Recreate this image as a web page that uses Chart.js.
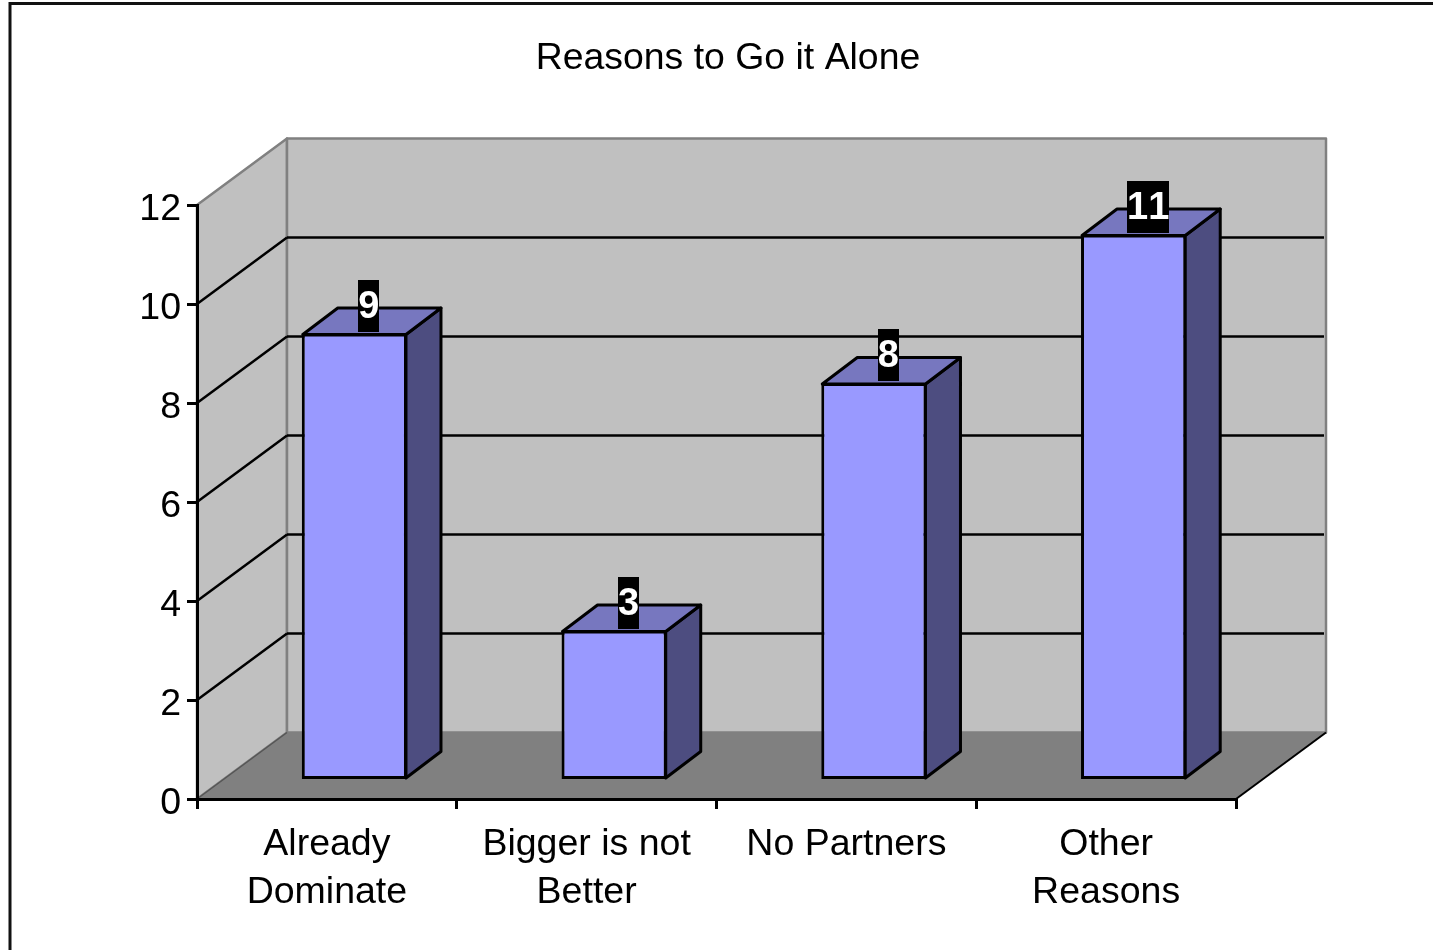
<!DOCTYPE html>
<html>
<head>
<meta charset="utf-8">
<title>Reasons to Go it Alone</title>
<script src="https://cdn.jsdelivr.net/npm/chart.js@4/dist/chart.umd.min.js"></script>
<style>
    html, body { margin: 0; padding: 0; background: #fff; overflow: hidden; }
    canvas { display: block; }
</style>
</head>
<body>
<canvas id="chart" width="1433" height="950"></canvas>
<script>
var titleText = 'Reasons to Go it Alone';
var categories = [['Already', 'Dominate'], ['Bigger is not', 'Better'], 'No Partners', ['Other', 'Reasons']];
var values = [9, 3, 8, 11];

var fontName = '"Liberation Sans", Arial, sans-serif';

// depth of the box behind the axes, and where the bars sit in it
var wallX = 90, wallY = -66.5;
var barX = 27.5, barY = -20;
var sideX = 35, sideY = -26.5;

function poly(ctx, pts, fill, stroke, width) {
    ctx.beginPath();
    ctx.moveTo(pts[0][0], pts[0][1]);
    for (var i = 1; i < pts.length; i++) {
        ctx.lineTo(pts[i][0], pts[i][1]);
    }
    ctx.closePath();
    if (fill) {
        ctx.fillStyle = fill;
        ctx.fill();
    }
    if (stroke) {
        ctx.strokeStyle = stroke;
        ctx.lineWidth = width;
        ctx.lineJoin = 'round';
        ctx.stroke();
    }
}

function line(ctx, x1, y1, x2, y2, color, width) {
    ctx.beginPath();
    ctx.moveTo(x1, y1);
    ctx.lineTo(x2, y2);
    ctx.strokeStyle = color;
    ctx.lineWidth = width;
    ctx.stroke();
}

var box3d = {
    id: 'box3d',
    afterLayout(chart) {
        // the title is centred on the whole frame, not on the plot
        chart.titleBlock.left = 23;
        chart.titleBlock.right = 1433;
    },
    afterUpdate(chart) {
        // y tick labels sit a little under their tick marks
        chart.scales.y.getLabelItems().forEach(function (item) {
            item.options.translation[1] += 5;
        });
        // chart.js lifts the base by half the grid line, put it back on zero
        let y0 = chart.scales.y.getPixelForValue(0);
        chart.getDatasetMeta(0).data.forEach(function (bar) {
            bar.base = y0;
        });
    },
    beforeDraw(chart) {
        let ctx = chart.ctx;
        let a = chart.chartArea;
        let y = chart.scales.y;

        ctx.save();
        ctx.strokeStyle = '#111';
        ctx.lineWidth = 3;
        ctx.strokeRect(10, 3.5, 1600, 1600);

        // side wall, back wall, floor
        poly(ctx, [[a.left, a.top], [a.left + wallX, a.top + wallY], [a.left + wallX, a.bottom + wallY], [a.left, a.bottom]], '#C0C0C0', '#808080', 2.5);
        poly(ctx, [[a.left + wallX, a.top + wallY], [a.right + wallX, a.top + wallY], [a.right + wallX, a.bottom + wallY], [a.left + wallX, a.bottom + wallY]], '#C0C0C0', '#808080', 2.5);
        poly(ctx, [[a.left, a.bottom], [a.left + wallX, a.bottom + wallY], [a.right + wallX, a.bottom + wallY], [a.right, a.bottom]], '#808080');

        // grid runs along the side wall then across the back
        y.ticks.forEach(function (t) {
            if (t.value === 0 || t.value === y.max) return;
            let py = y.getPixelForValue(t.value);
            line(ctx, a.left, py, a.left + wallX, py + wallY, '#000', 2.5);
            line(ctx, a.left + wallX, py + wallY, a.right + wallX - 2, py + wallY, '#000', 2.5);
        });
        line(ctx, a.left, a.bottom, a.left + wallX, a.bottom + wallY, '#555', 1.5);
        line(ctx, a.right, a.bottom, a.right + wallX, a.bottom + wallY, '#000', 2);
        ctx.restore();
    },
    beforeDatasetsDraw(chart) {
        let ctx = chart.ctx;
        ctx.save();
        ctx.translate(barX, barY);
        chart.getDatasetMeta(0).data.forEach(function (bar) {
            let l = bar.x - bar.width / 2 + 1, r = bar.x + bar.width / 2 - 1;
            let t = bar.y + 1, b = bar.base - 1;
            poly(ctx, [[r, t], [r + sideX, t + sideY], [r + sideX, b + sideY], [r, b]], '#4D4D80', '#000', 3);
            poly(ctx, [[l, t], [l + sideX, t + sideY], [r + sideX, t + sideY], [r, t]], '#7777BF', '#000', 3);
        });
    },
    afterDatasetsDraw(chart) {
        let ctx = chart.ctx;
        ctx.restore();

        // value labels, white on black
        ctx.save();
        ctx.font = 'bold 38px ' + fontName;
        ctx.fontKerning = 'none';
        ctx.textAlign = 'center';
        ctx.textBaseline = 'middle';
        chart.getDatasetMeta(0).data.forEach(function (bar, i) {
            let txt = String(values[i]);
            let w = ctx.measureText(txt).width;
            let cx = bar.x + barX + 14.5;
            let cy = bar.y + barY - 28;
            ctx.fillStyle = '#000';
            ctx.fillRect(Math.round(cx - w / 2), Math.round(cy - 26), Math.round(w), 52);
            ctx.fillStyle = '#fff';
            ctx.fillText(txt, cx, cy + 2);
        });
        ctx.restore();
    }
};

new Chart(document.getElementById('chart'), {
    type: 'bar',
    data: {
        labels: categories,
        datasets: [{
            data: values,
            backgroundColor: '#9999FF',
            borderColor: '#000',
            borderWidth: 3,
            borderSkipped: false,
            barPercentage: 0.405,
            categoryPercentage: 1,
            clip: false
        }]
    },
    plugins: [box3d],
    options: {
        responsive: false,
        animation: false,
        events: [],
        layout: { padding: { left: 23, right: 197, top: 0, bottom: 0 } },
        plugins: {
            legend: { display: false },
            tooltip: { enabled: false },
            title: {
                display: true,
                text: titleText,
                color: '#000',
                font: { family: fontName, size: 37.4, weight: 'normal' },
                padding: { top: 36, bottom: 124.12 }
            }
        },
        scales: {
            x: {
                afterFit(scale) { scale.height = 151; },
                grid: { offset: true, drawOnChartArea: false, tickLength: 10, color: '#000', lineWidth: 3 },
                border: { color: '#000', width: 3 },
                ticks: {
                    color: '#000',
                    padding: 12,
                    autoSkip: false,
                    maxRotation: 0,
                    font: { family: fontName, size: 37.5, lineHeight: 1.28 }
                }
            },
            y: {
                min: 0,
                max: 12,
                afterFit(scale) { scale.width = 174; },
                grid: { drawOnChartArea: false, tickLength: 10, color: '#000', lineWidth: 3 },
                border: { color: '#000', width: 3 },
                ticks: {
                    stepSize: 2,
                    color: '#000',
                    padding: 6,
                    font: { family: fontName, size: 37.5 }
                }
            }
        }
    }
});
</script>
</body>
</html>
